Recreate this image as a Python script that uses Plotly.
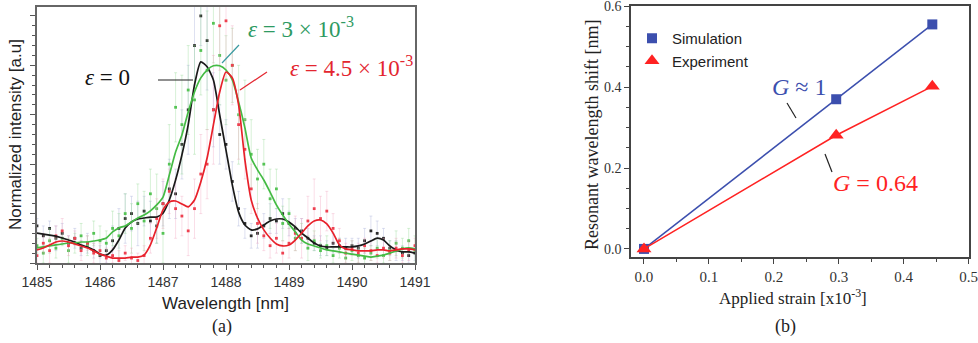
import plotly.graph_objects as go

# ---------------- Panel (a) data ----------------
wavelength = [round(1485 + 0.1 * i, 1) for i in range(61)]

black_line = [0.121, 0.117, 0.113, 0.109, 0.101, 0.093, 0.085, 0.073, 0.065, 0.053,
              0.036, 0.032, 0.053, 0.093, 0.142, 0.166, 0.178, 0.182, 0.186, 0.186,
              0.202, 0.255, 0.336, 0.437, 0.559, 0.721, 0.814, 0.794, 0.741, 0.599,
              0.457, 0.316, 0.206, 0.154, 0.134, 0.138, 0.154, 0.170, 0.178, 0.178,
              0.166, 0.146, 0.121, 0.101, 0.081, 0.069, 0.065, 0.065, 0.065, 0.065,
              0.065, 0.069, 0.077, 0.089, 0.101, 0.093, 0.069, 0.053, 0.045, 0.045, 0.040]
green_line = [0.061, 0.065, 0.069, 0.073, 0.077, 0.081, 0.081, 0.085, 0.085, 0.089,
              0.093, 0.101, 0.126, 0.142, 0.150, 0.166, 0.182, 0.194, 0.211, 0.235,
              0.267, 0.356, 0.449, 0.518, 0.611, 0.692, 0.749, 0.781, 0.798, 0.798,
              0.781, 0.741, 0.652, 0.547, 0.425, 0.377, 0.336, 0.287, 0.235, 0.194,
              0.158, 0.126, 0.093, 0.077, 0.069, 0.061, 0.053, 0.049, 0.045, 0.040,
              0.036, 0.032, 0.028, 0.024, 0.028, 0.032, 0.040, 0.049, 0.057, 0.061, 0.057]
red_line = [0.053, 0.061, 0.073, 0.085, 0.089, 0.085, 0.077, 0.069, 0.061, 0.049,
            0.036, 0.028, 0.020, 0.020, 0.020, 0.024, 0.024, 0.032, 0.073, 0.142,
            0.215, 0.247, 0.251, 0.239, 0.227, 0.255, 0.328, 0.425, 0.559, 0.692,
            0.773, 0.749, 0.640, 0.417, 0.255, 0.182, 0.134, 0.101, 0.077, 0.069,
            0.073, 0.093, 0.121, 0.150, 0.170, 0.174, 0.158, 0.121, 0.073, 0.057,
            0.053, 0.049, 0.049, 0.049, 0.053, 0.053, 0.049, 0.053, 0.057, 0.057, 0.053]

black_dots = [0.15, 0.11, 0.14, 0.10, 0.12, 0.08, 0.10, 0.06, 0.08, 0.05,
              0.03, 0.05, 0.09, 0.14, 0.18, 0.20, 0.16, 0.21, 0.17, 0.15,
              0.24, 0.30, 0.28, 0.48, 0.62, 0.88, 1.00, 0.90, 0.62, 0.52,
              0.48, 0.33, 0.22, 0.16, 0.11, 0.12, 0.15, 0.18, 0.17, 0.20,
              0.16, 0.14, 0.13, 0.10, 0.08, 0.07, 0.06, 0.08, 0.07, 0.06,
              0.07, 0.06, 0.09, 0.13, 0.12, 0.10, 0.06, 0.05, 0.04, 0.03, 0.04]
green_dots = [0.07, 0.04, 0.09, 0.06, 0.10, 0.05, 0.08, 0.11, 0.07, 0.12,
              0.09, 0.08, 0.14, 0.11, 0.20, 0.14, 0.24, 0.17, 0.28, 0.22,
              0.12, 0.40, 0.63, 0.56, 0.70, 0.66, 0.86, 0.78, 0.97, 0.84,
              0.74, 0.80, 0.60, 0.58, 0.44, 0.34, 0.40, 0.26, 0.30, 0.16,
              0.20, 0.10, 0.12, 0.06, 0.09, 0.05, 0.07, 0.03, 0.06, 0.02,
              0.05, 0.03, 0.02, 0.04, 0.06, 0.03, 0.05, 0.08, 0.06, 0.09, 0.05]
red_dots = [0.03, 0.08, 0.05, 0.11, 0.13, 0.07, 0.10, 0.05, 0.08, 0.04,
            0.05, 0.02, 0.03, 0.01, 0.04, 0.02, 0.01, 0.03, 0.10, 0.18,
            0.24, 0.29, 0.22, 0.19, 0.13, 0.22, 0.36, 0.40, 0.62, 0.96,
            0.98, 0.80, 0.56, 0.46, 0.30, 0.16, 0.11, 0.07, 0.10, 0.04,
            0.08, 0.12, 0.10, 0.17, 0.22, 0.18, 0.21, 0.14, 0.09, 0.04,
            0.06, 0.04, 0.07, 0.05, 0.03, 0.06, 0.04, 0.06, 0.03, 0.05, 0.07]

black_err = [0.03, 0.04, 0.03, 0.05, 0.04, 0.03, 0.04, 0.03, 0.04, 0.03,
             0.04, 0.05, 0.06, 0.08, 0.10, 0.07, 0.09, 0.06, 0.08, 0.07,
             0.09, 0.12, 0.10, 0.14, 0.18, 0.16, 0.12, 0.20, 0.15, 0.12,
             0.10, 0.08, 0.07, 0.06, 0.05, 0.06, 0.05, 0.06, 0.05, 0.06,
             0.05, 0.04, 0.05, 0.04, 0.03, 0.04, 0.03, 0.04, 0.03, 0.04,
             0.03, 0.04, 0.05, 0.06, 0.05, 0.04, 0.03, 0.04, 0.03, 0.03, 0.03]
green_err = [0.03, 0.04, 0.05, 0.04, 0.03, 0.05, 0.04, 0.05, 0.04, 0.05,
             0.06, 0.05, 0.07, 0.09, 0.08, 0.10, 0.08, 0.12, 0.10, 0.14,
             0.12, 0.16, 0.14, 0.20, 0.18, 0.22, 0.18, 0.24, 0.16, 0.20,
             0.18, 0.15, 0.20, 0.16, 0.14, 0.12, 0.10, 0.12, 0.08, 0.07,
             0.06, 0.05, 0.04, 0.05, 0.04, 0.03, 0.04, 0.03, 0.04, 0.03,
             0.04, 0.03, 0.04, 0.03, 0.04, 0.03, 0.04, 0.05, 0.04, 0.05, 0.06]
red_err = [0.03, 0.04, 0.05, 0.04, 0.05, 0.04, 0.03, 0.04, 0.03, 0.04,
           0.03, 0.04, 0.03, 0.04, 0.03, 0.04, 0.03, 0.04, 0.06, 0.08,
           0.10, 0.09, 0.12, 0.08, 0.10, 0.12, 0.16, 0.14, 0.22, 0.18,
           0.24, 0.16, 0.14, 0.12, 0.10, 0.08, 0.06, 0.05, 0.06, 0.05,
           0.06, 0.07, 0.08, 0.10, 0.12, 0.09, 0.08, 0.06, 0.05, 0.04,
           0.03, 0.04, 0.03, 0.04, 0.03, 0.04, 0.03, 0.04, 0.03, 0.04, 0.03]

wl_ticks = [1485, 1486, 1487, 1488, 1489, 1490, 1491]

# ---------------- Panel (b) data ----------------
strain = [0.0, 0.296, 0.444]
sim_shift = [0.0, 0.370, 0.555]
exp_shift = [0.0, 0.281, 0.402]
strain_ticks = [0.0, 0.1, 0.2, 0.3, 0.4, 0.5]
shift_ticks = [0.0, 0.2, 0.4, 0.6]

W, H = 978, 343
def px(x):
    return x / W
def py(y):
    return 1 - y / H

SERIF = "Liberation Serif, Times New Roman, serif"
SANS = "Liberation Sans, Arial, sans-serif"

BLUE = "#3c4fae"
RED_B = "#ff2222"

fig = go.Figure()

series = [
    (black_dots, black_err, black_line, "#1a1a1a", "#2a2a2a", "rgba(160,170,215,0.35)"),
    (green_dots, green_err, green_line, "#44bb44", "#55c455", "rgba(140,215,140,0.35)"),
    (red_dots, red_err, red_line, "#e8202a", "#ee4050", "rgba(240,160,190,0.35)"),
]
for dots, err, line, lc, dc, ec in series:
    fig.add_trace(go.Scatter(
        x=wavelength, y=dots, mode="markers", xaxis="x", yaxis="y",
        marker=dict(symbol="square", size=2.8, color=dc),
        error_y=dict(type="data", array=err, visible=True, color=ec, thickness=1, width=1.5),
        showlegend=False, hoverinfo="skip"))
for dots, err, line, lc, dc, ec in series:
    fig.add_trace(go.Scatter(
        x=wavelength, y=line, mode="lines", xaxis="x", yaxis="y",
        line=dict(color=lc, width=1.7, shape="spline", smoothing=0.6),
        showlegend=False))

# Panel (b)
fig.add_trace(go.Scatter(
    x=strain, y=sim_shift, mode="lines+markers", xaxis="x2", yaxis="y2",
    line=dict(color=BLUE, width=1.5),
    marker=dict(symbol="square", size=10, color=BLUE),
    showlegend=False))
fig.add_trace(go.Scatter(
    x=strain, y=exp_shift, mode="lines+markers", xaxis="x2", yaxis="y2",
    line=dict(color=RED_B, width=1.5),
    marker=dict(symbol="triangle-up", size=13, color=RED_B),
    showlegend=False))
# legend entries
fig.add_trace(go.Scatter(x=[None], y=[None], mode="markers", xaxis="x2", yaxis="y2",
                         name="Simulation", marker=dict(symbol="square", size=10, color=BLUE)))
fig.add_trace(go.Scatter(x=[None], y=[None], mode="markers", xaxis="x2", yaxis="y2",
                         name="Experiment", marker=dict(symbol="triangle-up", size=13, color=RED_B)))

axis_common = dict(showgrid=False, zeroline=False, showline=True, mirror=True,
                   ticks="outside", automargin=False, ticklabeloverflow="allow")

fig.update_layout(
    width=W, height=H,
    margin=dict(l=0, r=0, t=0, b=0, autoexpand=False),
    paper_bgcolor="white", plot_bgcolor="white",
    xaxis=dict(axis_common, domain=[px(37), px(415)], range=[1485, 1491], anchor="y",
               tickvals=wl_ticks, ticklen=5, tickcolor="#555", linecolor="#666", linewidth=1.5,
               minor=dict(dtick=0.2, tick0=1485, ticks="outside", ticklen=3, tickcolor="#555"),
               tickfont=dict(family=SANS, size=14, color="#333")),
    yaxis=dict(axis_common, domain=[py(263), py(7)], range=[0, 1.036], anchor="x",
               dtick=0.2, tick0=0, showticklabels=False, ticklen=5, tickcolor="#555",
               linecolor="#666", linewidth=1.5,
               minor=dict(dtick=0.04, tick0=0, ticks="outside", ticklen=3, tickcolor="#555")),
    xaxis2=dict(axis_common, domain=[px(631), px(969)], range=[-0.02, 0.5005], anchor="y2",
                tickvals=strain_ticks, tickformat=".1f", ticklen=5, tickcolor="#444",
                linecolor="#444", linewidth=1.5,
                minor=dict(dtick=0.05, tick0=0, ticks="outside", ticklen=3, tickcolor="#444"),
                tickfont=dict(family=SERIF, size=15, color="#333")),
    yaxis2=dict(axis_common, domain=[py(257), py(6)], range=[-0.02, 0.6005], anchor="x2",
                tickvals=shift_ticks, tickformat=".1f", ticklen=5, tickcolor="#444",
                linecolor="#444", linewidth=1.5,
                minor=dict(dtick=0.05, tick0=0, ticks="outside", ticklen=3, tickcolor="#444"),
                tickfont=dict(family=SERIF, size=14, color="#333")),
    legend=dict(x=px(632), y=py(22), xanchor="left", yanchor="top",
                font=dict(family=SANS, size=15, color="#222"),
                bgcolor="rgba(0,0,0,0)", itemwidth=30, tracegroupgap=0),
)

def ann(text, x, y, size, color, family=SERIF, angle=0):
    return dict(text=text, x=px(x), y=py(y), xref="paper", yref="paper",
                showarrow=False, xanchor="center", yanchor="middle", textangle=angle,
                font=dict(family=family, size=size, color=color))

annotations = [
    ann("Normalized intensity [a.u]", 15, 135, 17, "#222", SANS, -90),
    ann("Wavelength [nm]", 225, 303, 17, "#222", SANS),
    ann("(a)", 222, 326, 18, "#222"),
    ann("<i>ε</i> = 0", 107, 77, 23, "#111"),
    ann("<i>ε</i> = 3 × 10<sup>-3</sup>", 301, 28, 23, "#2e9a62"),
    ann("<i>ε</i> = 4.5 × 10<sup>-3</sup>", 351, 67, 23, "#e3262f"),
    ann("Resonant wavelength shift [nm]", 592, 135, 18, "#222", SERIF, -90),
    ann("Applied strain [x10<sup>-3</sup>]", 793, 297, 17, "#222"),
    ann("(b)", 785, 326, 18, "#222"),
    ann("<i>G</i> ≈ 1", 799, 87, 24, BLUE),
    ann("<i>G</i> = 0.64", 875, 183, 24, RED_B),
]
fig.update_layout(annotations=annotations)

def seg(x0, y0, x1, y1, color, width=1.2):
    return dict(type="line", xref="paper", yref="paper",
                x0=px(x0), y0=py(y0), x1=px(x1), y1=py(y1),
                line=dict(color=color, width=width))

fig.update_layout(shapes=[
    seg(158, 80, 193, 80, "#222"),
    seg(222, 63, 239, 45, "#3a9aa0"),
    seg(240, 90, 267, 72, "#e3262f"),
    seg(787, 103, 796, 118, "#222"),
    seg(825, 154, 832, 172, "#222"),
])

fig.write_html("out.html", config={"displayModeBar": False},
               post_script="document.body.style.margin='0';document.body.style.overflow='hidden';")
